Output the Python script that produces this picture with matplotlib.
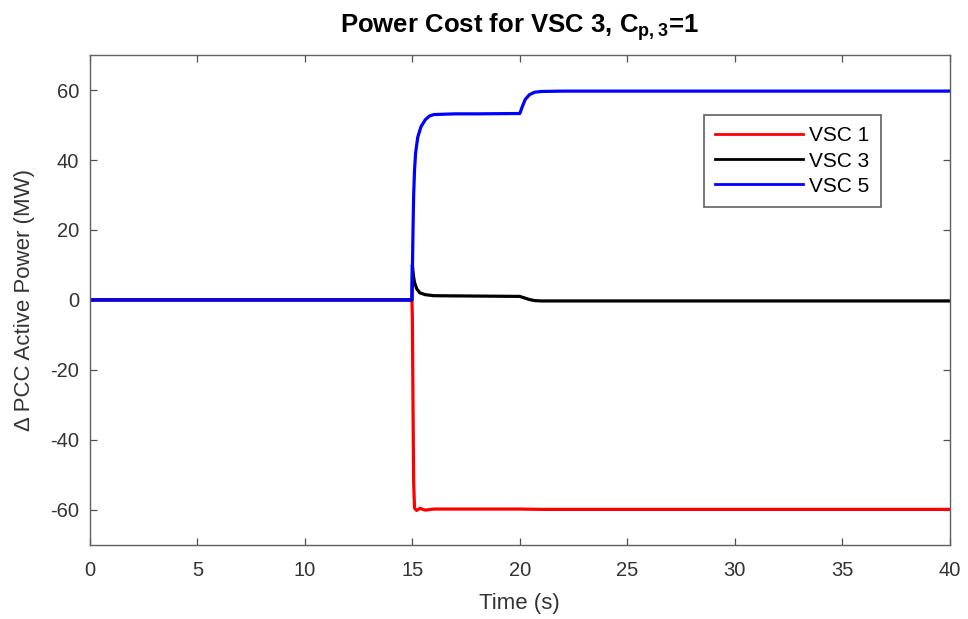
import matplotlib.pyplot as plt

plt.rcParams['font.family'] = ['Liberation Sans', 'DejaVu Sans']
plt.rcParams['mathtext.fontset'] = 'custom'
plt.rcParams['mathtext.rm'] = 'Liberation Sans'
plt.rcParams['mathtext.bf'] = 'Liberation Sans:bold'
plt.rcParams['axes.unicode_minus'] = False

# values (time in s, power in MW)
t_vsc1 = [0, 14.98, 15.0, 15.03, 15.06, 15.1, 15.2, 15.35, 15.6, 16.0, 18.0, 20.0, 21.0, 25.0, 30.0, 35.0, 40.0]
p_vsc1 = [0, 0, -5, -30, -52, -59.5, -60.2, -59.6, -60.1, -59.8, -59.8, -59.8, -59.9, -59.9, -59.9, -59.9, -59.9]

t_vsc3 = [0, 14.98, 15.0, 15.03, 15.06, 15.1, 15.2, 15.35, 15.6, 16.0, 18.0, 20.0, 20.2, 20.45, 20.7, 21.0, 25.0, 30.0, 40.0]
p_vsc3 = [0, 0, 10, 8, 6.5, 5, 3.2, 2.0, 1.5, 1.2, 1.1, 1.0, 0.6, 0.1, -0.2, -0.3, -0.3, -0.3, -0.3]

t_vsc5 = [0, 14.98, 15.0, 15.03, 15.06, 15.1, 15.15, 15.25, 15.4, 15.6, 15.8, 16.0, 17.0, 18.0, 20.0, 20.1, 20.25, 20.45, 20.7, 21.0, 22.0, 25.0, 30.0, 40.0]
p_vsc5 = [0, 0, 8, 20, 30, 37, 42, 46.5, 49.5, 51.5, 52.6, 53.0, 53.2, 53.2, 53.3, 55.0, 57.3, 58.7, 59.4, 59.6, 59.7, 59.7, 59.7, 59.7]

labels = ['VSC 1', 'VSC 3', 'VSC 5']
colors = ['#ff0000', '#000000', '#0000ff']

fig = plt.figure(figsize=(9.68, 6.19), dpi=100)
ax = fig.add_axes([0.093, 0.120, 0.888, 0.791])

ax.plot(t_vsc1, p_vsc1, color=colors[0], lw=2.3, label=labels[0])
ax.plot(t_vsc3, p_vsc3, color=colors[1], lw=2.3, label=labels[1])
ax.plot(t_vsc5, p_vsc5, color=colors[2], lw=2.3, label=labels[2])

ax.set_xlim(0, 40)
ax.set_ylim(-70, 70)
ax.set_xticks(range(0, 41, 5))
ax.set_yticks(range(-60, 61, 20))
ax.tick_params(direction='in', length=5, width=0.9, labelsize=14.5, colors='#505050',
               labelcolor='#333333', top=True, right=True)
ax.tick_params(axis='x', pad=12)
ax.tick_params(axis='y', pad=8)
for s in ax.spines.values():
    s.set_color('#606060')
    s.set_linewidth(1.0)

ax.set_xlabel('Time (s)', fontsize=16, color='#333333', labelpad=9)
ax.set_ylabel('Δ PCC Active Power (MW)', fontsize=16, color='#333333', labelpad=11)
ax.set_title(r'Power Cost for VSC 3, $\mathbf{C_{p,3}}$=1', fontsize=18.5, fontweight='bold', pad=16)

leg = ax.legend(loc='upper right', bbox_to_anchor=(0.92, 0.878), fontsize=15,
                fancybox=False, framealpha=1, edgecolor='#606060',
                handlelength=4.2, handletextpad=0.3, borderpad=0.55, labelspacing=0.3,
                borderaxespad=0)
leg.get_frame().set_linewidth(1.2)
for ln in leg.get_lines():
    ln.set_linewidth(2.0)

fig.savefig('out.png', dpi=100)
